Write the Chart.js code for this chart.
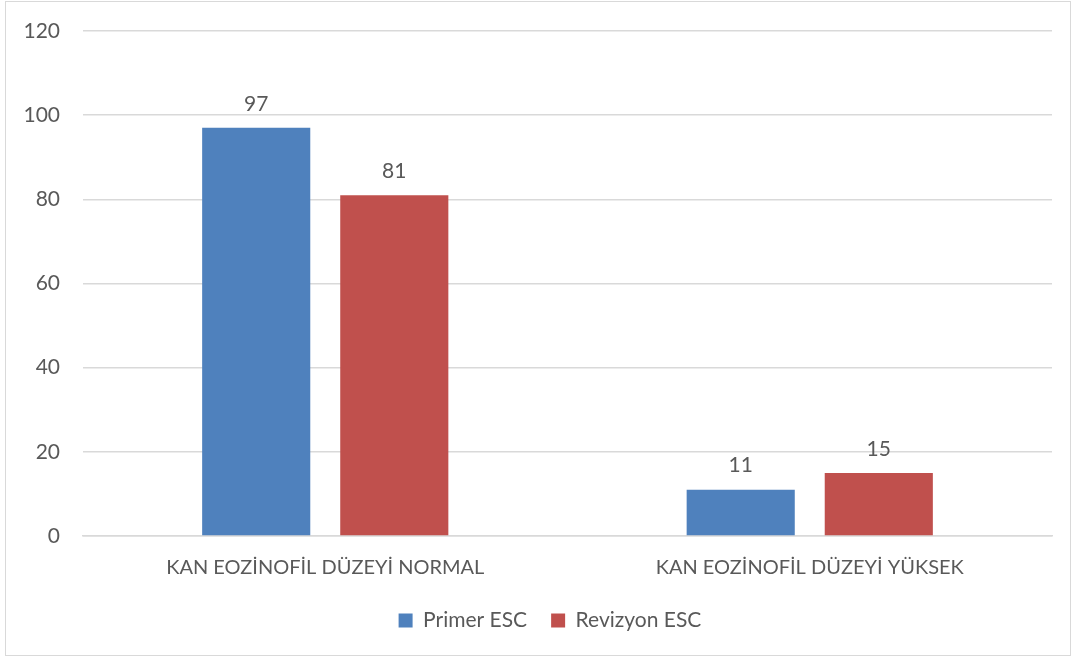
<!DOCTYPE html>
<html>
<head>
<meta charset="utf-8">
<script src="https://cdn.jsdelivr.net/npm/chart.js@4"></script>
<style>
  body { margin: 0; background: #fff; }
  #frame { position: absolute; left: 5px; top: 1px; width: 1066px; height: 655px; border: 1px solid #d9d9d9; box-sizing: border-box; }
  canvas { position: absolute; left: 0; top: 0; }
</style>
</head>
<body>
<div id="frame"></div>
<canvas id="chart" width="1073" height="659"></canvas>
<script>
const categories = ['KAN EOZİNOFİL DÜZEYİ NORMAL', 'KAN EOZİNOFİL DÜZEYİ YÜKSEK'];
const primerValues = [97, 11];
const revizyonValues = [81, 15];
const seriesNames = ['Primer ESC', 'Revizyon ESC'];

const textColor = '#595959';
const fontFamily = 'Lato, "Open Sans", sans-serif';
const fontSize = 21;

// draws the value over each bar
const valueLabels = {
  id: 'valueLabels',
  afterDatasetsDraw(chart) {
    const ctx = chart.ctx;
    ctx.save();
    ctx.fillStyle = textColor;
    ctx.font = fontSize + 'px ' + fontFamily;
    ctx.textAlign = 'center';
    ctx.textBaseline = 'middle';
    chart.data.datasets.forEach((ds, i) => {
      chart.getDatasetMeta(i).data.forEach((bar, j) => {
        ctx.fillText(ds.data[j], bar.x, bar.y - 24);
      });
    });
    ctx.restore();
  }
};

// nudge legend right a little, like the original
const legendShift = {
  id: 'legendShift',
  afterLayout(chart) {
    chart.legend.left += 17;
    chart.legend.right += 17;
  }
};

const ctx = document.getElementById('chart').getContext('2d');
new Chart(ctx, {
  type: 'bar',
  data: {
    labels: categories,
    datasets: [
      { label: seriesNames[0], data: primerValues, backgroundColor: '#4F81BD' },
      { label: seriesNames[1], data: revizyonValues, backgroundColor: '#C0504D' }
    ]
  },
  options: {
    responsive: false,
    animation: false,
    layout: { padding: { left: 14, right: 21, top: 31, bottom: 18 } },
    datasets: { bar: { categoryPercentage: 0.57, barPercentage: 0.783 } },
    plugins: {
      legend: {
        position: 'bottom',
        labels: {
          color: textColor,
          font: { size: fontSize, family: fontFamily },
          boxWidth: 14,
          boxHeight: 14,
          padding: 24
        }
      },
      tooltip: { enabled: false }
    },
    scales: {
      y: {
        min: 0,
        max: 120,
        ticks: { stepSize: 20, color: textColor, font: { size: fontSize, family: fontFamily }, padding: 23 },
        grid: { color: '#d9d9d9', lineWidth: 1.5, drawTicks: false },
        border: { display: false },
        afterFit(scale) {
          scale.width = 69;
          scale.paddingTop = 0;
          scale.paddingBottom = 0;
        }
      },
      x: {
        ticks: { color: textColor, font: { size: 20, family: fontFamily }, padding: 12 },
        grid: { display: false },
        border: { color: '#d9d9d9', width: 1.5 },
        afterFit(scale) { scale.height = 50; }
      }
    }
  },
  plugins: [valueLabels, legendShift]
});
</script>
</body>
</html>
